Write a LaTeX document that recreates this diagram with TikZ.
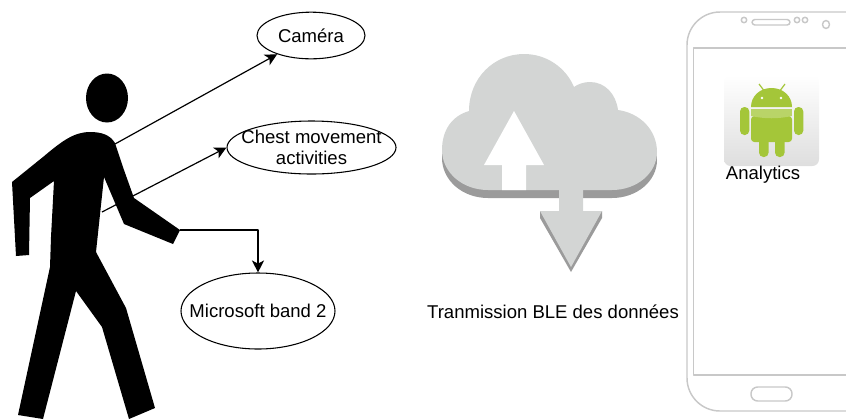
\documentclass[tikz,border=0pt]{standalone}
\usepackage{fontspec}
\setmainfont{Liberation Sans}
\usetikzlibrary{shapes.geometric, arrows.meta}
\definecolor{cloudface}{HTML}{D3D5D4}
\definecolor{cloudedge}{HTML}{9B9B9B}
\definecolor{phoneline}{HTML}{C8C8C8}
\definecolor{droid}{HTML}{A4C639}
\definecolor{droidlight}{HTML}{B9D468}
\definecolor{tilegrey}{HTML}{DEDEDE}
\tikzset{
	sensor/.style={draw, ellipse, inner xsep=-40pt, inner ysep=-20pt, align=center, line width=0.8pt},
	link/.style={->, line width=0.9pt},
	phonepart/.style={draw=phoneline, line width=1.1pt}
}
\begin{document}
\begin{tikzpicture}[x=0.75pt, y=-0.75pt, font=\fontsize{13.9}{15.5}\selectfont, line join=round, >={Stealth[length=9pt, width=9pt, inset=2.4pt]}]
	\useasboundingbox (0,0) rectangle (846,419);
	% walker
	\fill (107,98) ellipse (21 and 24.5);
	\fill (115,143)--(124,170)--(134,198)--(180,230)--(173,244)--(124,224)--(104,177)--(96,252)
		--(126,308)--(155,408)--(129,419)--(102,327)--(76,291)--(43,419)--(18,415)--(50,267)
		--(51,237)--(54,181)--(30,198)--(29,255)--(16,256)--(12,182)--(43,157)
		.. controls (62,141) and (74,132) .. (90,132) .. controls (102,132) and (110,135) .. (115,143)--cycle;
	% sensors
	\node[sensor, minimum width=81pt, minimum height=35pt] (camera) at (311,35.5) {Caméra};
	\node[sensor, minimum width=126.75pt, minimum height=39.75pt] (chest) at (311.5,147.5) {Chest movement\\activities};
	\node[sensor, minimum width=115.5pt, minimum height=57pt] (band) at (258,311) {Microsoft band 2};
	\coordinate (shoulder) at (115,144);
	\coordinate (torso) at (102,212);
	\coordinate (wrist) at (180,230);
	\draw[link] (shoulder)--(camera);
	\draw[link] (torso)--(chest.west);
	\draw[link] (wrist)-|(band.north);
	% cloud
	\foreach \dy/\col in {8/cloudedge,0/cloudface}
	\fill[\col, yshift=-\dy*0.75pt] (442,150) .. controls (442,130) and (452,116) .. (469,111)
		.. controls (469,78) and (494,54) .. (524,54) .. controls (547,54) and (566,68) .. (574,87)
		.. controls (578,84) and (584,82) .. (590,82) .. controls (605,82) and (616,94) .. (618,110)
		.. controls (640,113) and (657,130) .. (657,152) .. controls (657,173) and (637,190) .. (612,190)
		-- (488,190) .. controls (462,190) and (442,172) .. (442,150) -- cycle;
	\fill[white] (514,111)--(544,165)--(526,165)--(526,190)--(502,190)--(502,165)--(484,165)--cycle;
	\fill[cloudedge] (540,211)--(540,218)--(571,272)--(602,218)--(602,211)--cycle;
	\fill[cloudface] (559,190)--(583,190)--(583,211)--(602,211)--(571,267)--(540,211)--(559,211)--cycle;
	\node (ble) at (553,312) {Tranmission BLE des données};
	% phone
	\begin{scope}
		\clip (0,0) rectangle (846,419);
		\draw[phonepart, rounded corners=24.75pt] (687,12) rectangle (880,411);
		\draw[phonepart] (693.5,48) rectangle (880,375);
		\draw[phonepart, rounded corners=2.2pt] (752,19.5) rectangle (790,25);
		\draw[phonepart, rounded corners=5pt] (751,387) rectangle (792,401);
		\foreach \cx/\cr in {744/2.7,797/2.7,805/2.7}
		\draw[phonepart] (\cx,20) circle (\cr);
		\draw[phonepart] (826,24.5) ellipse (3.5 and 4);
	\end{scope}
	% android tile
	\shade[top color=white, bottom color=tilegrey, rounded corners=5pt] (724,75) rectangle (819,166);
	\draw[droid, line width=0.9pt] (759,84)--(765,92) (785,84)--(779,92);
	\fill[droid] (751,107) .. controls (751,96) and (760,88) .. (771.5,88) .. controls (783,88) and (792,96) .. (792,107)--cycle;
	\fill[droid, rounded corners=2.5pt] (751,116) -- (751,142) -- (792,142) -- (792,116) -- cycle;
	\fill[droidlight] (751,108.5) rectangle (792,116);
	\fill[droidlight] (751,116) .. controls (765,119) and (778,119) .. (792,116) -- cycle;
	\foreach \ax in {740,794}
	\fill[droid, rounded corners=3.3pt] (\ax,107) rectangle (\ax+9.3,135);
	\foreach \lx in {759,775}
	\fill[droid, rounded corners=3.3pt] (\lx,135) rectangle (\lx+9.6,157);
	\foreach \ex in {762,781}
	\fill[white] (\ex,98) circle (1.4);
	\node (analytics) at (763,174.5) {Analytics};
\end{tikzpicture}
\end{document}
